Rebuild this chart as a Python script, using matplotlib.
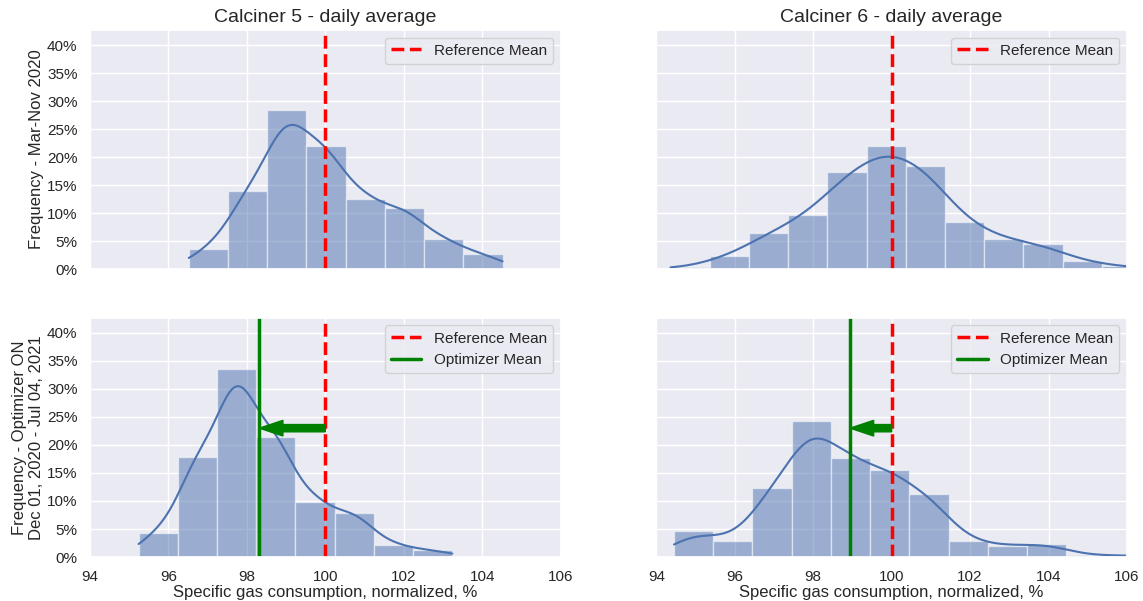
import numpy as np
import matplotlib
matplotlib.use("Agg")
import matplotlib.pyplot as plt
import seaborn as sns
from matplotlib.ticker import PercentFormatter

# ---------------- data ----------------
binwidth = 1.0

# Calciner 5, reference period (Mar-Nov 2020)
c5_ref_left = [96.52, 97.52, 98.52, 99.52, 100.52, 101.52, 102.52, 103.52]
c5_ref_freq = [0.036, 0.139, 0.285, 0.219, 0.126, 0.110, 0.053, 0.027]

# Calciner 6, reference period
c6_ref_left = [94.36, 95.36, 96.36, 97.36, 98.36, 99.36, 100.36, 101.36,
               102.36, 103.36, 104.36, 105.36]
c6_ref_freq = [0.004, 0.024, 0.065, 0.097, 0.173, 0.220, 0.185, 0.085,
               0.054, 0.045, 0.014, 0.005]

# Calciner 5, optimizer ON
c5_opt_left = [95.24, 96.24, 97.24, 98.24, 99.24, 100.24, 101.24, 102.24]
c5_opt_freq = [0.0435, 0.179, 0.335, 0.215, 0.099, 0.079, 0.022, 0.012]

# Calciner 6, optimizer ON
c6_opt_left = [94.45, 95.45, 96.45, 97.45, 98.45, 99.45, 100.45, 101.45,
               102.45, 103.45, 104.45, 105.45]
c6_opt_freq = [0.046, 0.029, 0.123, 0.243, 0.176, 0.156, 0.112, 0.029,
               0.020, 0.024, 0.003, 0.003]

reference_mean = 100.0
c5_opt_mean = 98.32
c6_opt_mean = 98.94

titles = ["Calciner 5 - daily average", "Calciner 6 - daily average"]
row_labels = ["Frequency - Mar-Nov 2020",
              "Frequency - Optimizer ON\nDec 01, 2020 - Jul 04, 2021"]
xlabel = "Specific gas consumption, normalized, %"
xticks = [94, 96, 98, 100, 102, 104, 106]

# ---------------- style ----------------
sns.set_theme(style="darkgrid")
plt.rcParams['font.family'] = ['Liberation Sans', 'DejaVu Sans']

blue = "#4c72b0"


def kde_from_bins(left, freq, bw, xgrid):
    centers = np.asarray(left) + binwidth / 2
    w = np.asarray(freq)
    z = (xgrid[:, None] - centers[None, :]) / bw
    return (w[None, :] * np.exp(-0.5 * z ** 2) / (bw * np.sqrt(2 * np.pi))).sum(axis=1) * binwidth


def draw_hist(ax, left, freq, bw, xmax=None):
    left = np.asarray(left)
    ax.bar(left, freq, width=binwidth, align="edge", color=blue, alpha=0.5,
           edgecolor="white", linewidth=1.0)
    x0 = left[0]
    x1 = left[-1] + binwidth if xmax is None else xmax
    xg = np.linspace(x0, x1, 300)
    ax.plot(xg, kde_from_bins(left, freq, bw, xg), color=blue, lw=1.5)


fig, axes = plt.subplots(2, 2, figsize=(11.43, 6.01), dpi=100, sharex=True, sharey=True)
fig.subplots_adjust(left=0.0787, right=0.986, top=0.9501, bottom=0.0732,
                    wspace=0.2035, hspace=0.2035)

panels = [
    (axes[0, 0], c5_ref_left, c5_ref_freq, 0.56, None, None),
    (axes[0, 1], c6_ref_left, c6_ref_freq, 0.70, 106.0, None),
    (axes[1, 0], c5_opt_left, c5_opt_freq, 0.52, None, c5_opt_mean),
    (axes[1, 1], c6_opt_left, c6_opt_freq, 0.62, 106.0, c6_opt_mean),
]

for ax, left, freq, bw, xmax, opt_mean in panels:
    draw_hist(ax, left, freq, bw, xmax)
    ax.axvline(reference_mean, color="red", ls="--", lw=2.5, label="Reference Mean")
    if opt_mean is not None:
        ax.axvline(opt_mean, color="green", ls="-", lw=2.5, label="Optimizer Mean")
        ax.arrow(reference_mean, 0.23, opt_mean - reference_mean, 0,
                 width=0.013, head_width=0.028, head_length=0.6,
                 length_includes_head=True, color="green", zorder=5)
    ax.legend(loc="upper right", fontsize=11)
    ax.tick_params(labelsize=11, pad=3)

ax0 = axes[0, 0]
ax0.set_xlim(94, 106)
ax0.set_ylim(0, 0.427)
ax0.set_xticks(xticks)
ax0.set_yticks(np.arange(0, 0.41, 0.05))
ax0.yaxis.set_major_formatter(PercentFormatter(1, decimals=0))

for j in range(2):
    axes[0, j].set_title(titles[j], fontsize=14)
    axes[1, j].set_xlabel(xlabel, fontsize=12, labelpad=1)
for i in range(2):
    axes[i, 0].set_ylabel(row_labels[i], fontsize=12, labelpad=2)

fig.savefig("out.png", dpi=100)
